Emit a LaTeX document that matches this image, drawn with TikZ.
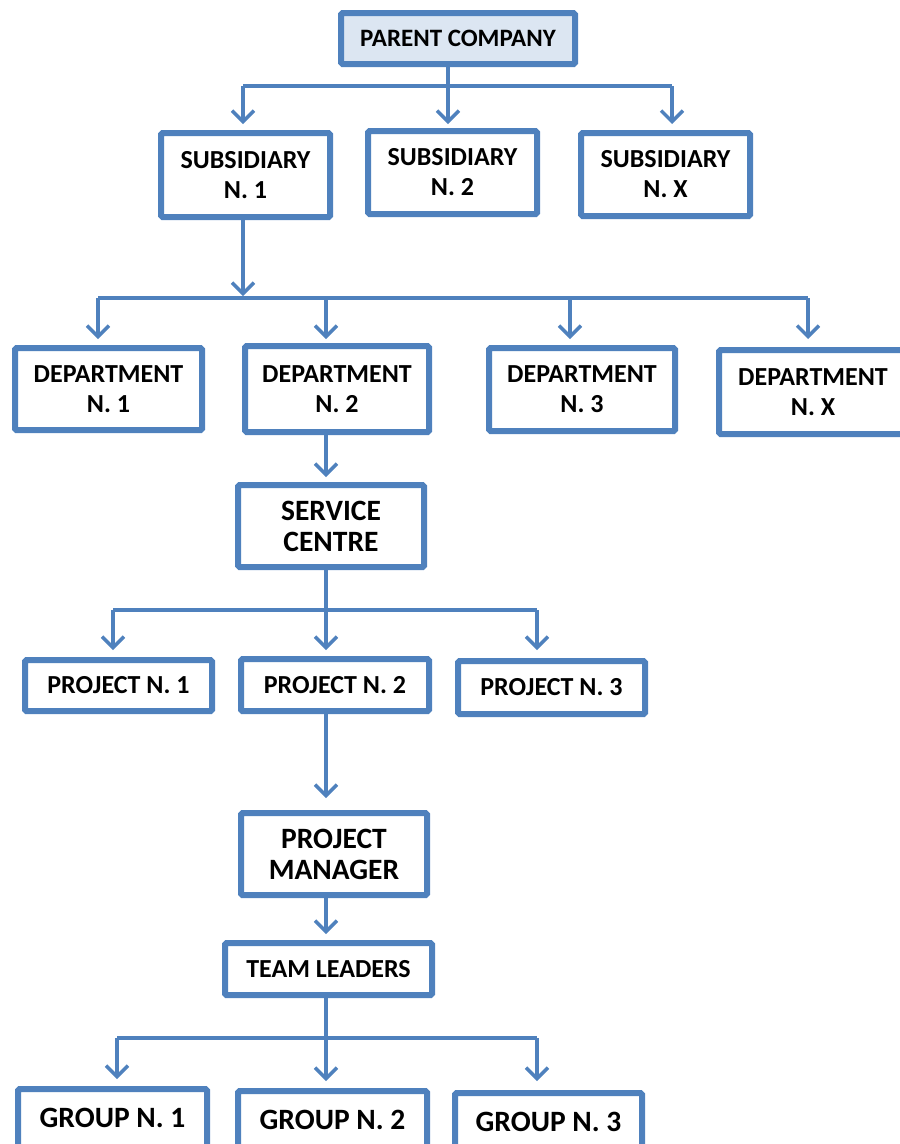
\documentclass[tikz,border=0pt]{standalone}
\usepackage{fontspec}
\setmainfont{Carlito}
\usetikzlibrary{arrows.meta}
\definecolor{orgblue}{HTML}{4F81BD}
\definecolor{orgfill}{HTML}{DCE6F2}
\begin{document}
\begin{tikzpicture}[x=1pt,y=-1pt,
  box/.style={draw=orgblue, line width=6pt, fill=white, rounded corners=1.5pt,
    align=center, inner sep=0pt, font=\fontsize{26}{30}\selectfont\bfseries,
    text=black},
  bigbox/.style={box, font=\fontsize{29.5}{31}\selectfont\bfseries},
  link/.style={draw=orgblue, line width=3.5pt, rounded corners=2pt},
  arr/.style={link, -{Straight Barb[length=11pt,width=22pt,line width=3.5pt]}},
]
\useasboundingbox (0,0) rectangle (900,1144);
\clip (0,0) rectangle (900,1144);

% boxes
\node[box, fill=orgfill, minimum width=234, minimum height=51,
  font=\fontsize{25}{30}\selectfont\bfseries] (par) at (458,38.5) {PARENT COMPANY};

\node[box, minimum width=169, minimum height=84] (s1) at (245.5,175) {SUBSIDIARY\\N. 1};
\node[box, minimum width=169, minimum height=83] (s2) at (452.5,172.5) {SUBSIDIARY\\N. 2};
\node[box, minimum width=169, minimum height=83] (sx) at (665.5,174.5) {SUBSIDIARY\\N. X};

\node[box, minimum width=187, minimum height=82] (d1) at (108.5,389) {DEPARTMENT\\N. 1};
\node[box, minimum width=184, minimum height=86] (d2) at (337,389) {DEPARTMENT\\N. 2};
\node[box, minimum width=186, minimum height=83] (d3) at (582,389.5) {DEPARTMENT\\N. 3};
\node[box, minimum width=188, minimum height=84] (dx) at (813,392) {DEPARTMENT\\N. X};

\node[bigbox, minimum width=186, minimum height=82] (sc) at (331,526) {SERVICE\\CENTRE};

\node[box, minimum width=187, minimum height=51] (p1) at (118.5,685.5) {PROJECT N. 1};
\node[box, minimum width=188, minimum height=52] (p2) at (335,685) {PROJECT N. 2};
\node[box, minimum width=187, minimum height=53] (p3) at (551.5,687.5) {PROJECT N. 3};

\node[bigbox, minimum width=186, minimum height=82] (pm) at (334,854) {PROJECT\\MANAGER};
\node[box, minimum width=207, minimum height=52] (tl) at (328.5,969) {TEAM LEADERS};

\node[bigbox, minimum width=189, minimum height=58] (g1) at (112.5,1118) {GROUP N. 1};
\node[bigbox, minimum width=189, minimum height=58] (g2) at (332.5,1120) {GROUP N. 2};
\node[bigbox, minimum width=187, minimum height=58] (g3) at (548.5,1122) {GROUP N. 3};

% parent company -> subsidiaries
\coordinate (b1) at (448,86);
\coordinate (b1l) at (243,86);
\coordinate (b1r) at (672,86);
\draw[link] (b1 |- par.south) -- (b1);
\draw[link] (b1l) -- (b1r);
\draw[arr, shorten >=6pt] (b1l) -- (b1l |- s1.north);
\draw[arr, shorten >=4pt] (b1) -- (b1 |- s2.north);
\draw[arr, shorten >=6pt] (b1r) -- (b1r |- sx.north);

% subsidiary n. 1 -> departments
\coordinate (b2) at (243,298);
\coordinate (b2l) at (98,298);
\coordinate (b2r) at (808,298);
\coordinate (b2a) at (326,298);
\coordinate (b2b) at (570,298);
\draw[arr, shorten >=2pt] (b2 |- s1.south) -- (b2);
\draw[link] (b2l) -- (b2r);
\draw[arr, shorten >=6pt] (b2l) -- (b2l |- d1.north);
\draw[arr, shorten >=4pt] (b2a) -- (b2a |- d2.north);
\draw[arr, shorten >=6pt] (b2b) -- (b2b |- d3.north);
\draw[arr, shorten >=8pt] (b2r) -- (b2r |- dx.north);

% department n. 2 -> service centre
\coordinate (c3) at (326,450);
\draw[arr, shorten >=5pt] (c3 |- d2.south) -- (c3 |- sc.north);

% service centre -> projects
\coordinate (b4) at (326,610);
\coordinate (b4l) at (113,610);
\coordinate (b4r) at (537,610);
\draw[link] (b4 |- sc.south) -- (b4);
\draw[link] (b4l) -- (b4r);
\draw[arr, shorten >=7pt] (b4l) -- (b4l |- p1.north);
\draw[arr, shorten >=6pt] (b4) -- (b4 |- p2.north);
\draw[arr, shorten >=8pt] (b4r) -- (b4r |- p3.north);

% project n. 2 -> project manager -> team leaders
\draw[arr, shorten >=12pt] (c3 |- p2.south) -- (c3 |- pm.north);
\draw[arr, shorten >=6pt] (c3 |- pm.south) -- (c3 |- tl.north);

% team leaders -> groups
\coordinate (b5) at (326,1038);
\coordinate (b5l) at (117,1038);
\coordinate (b5r) at (537,1038);
\draw[link] (b5 |- tl.south) -- (b5);
\draw[link] (b5l) -- (b5r);
\draw[arr, shorten >=7pt] (b5l) -- (b5l |- g1.north);
\draw[arr, shorten >=7pt] (b5) -- (b5 |- g2.north);
\draw[arr, shorten >=9pt] (b5r) -- (b5r |- g3.north);
\end{tikzpicture}
\end{document}
